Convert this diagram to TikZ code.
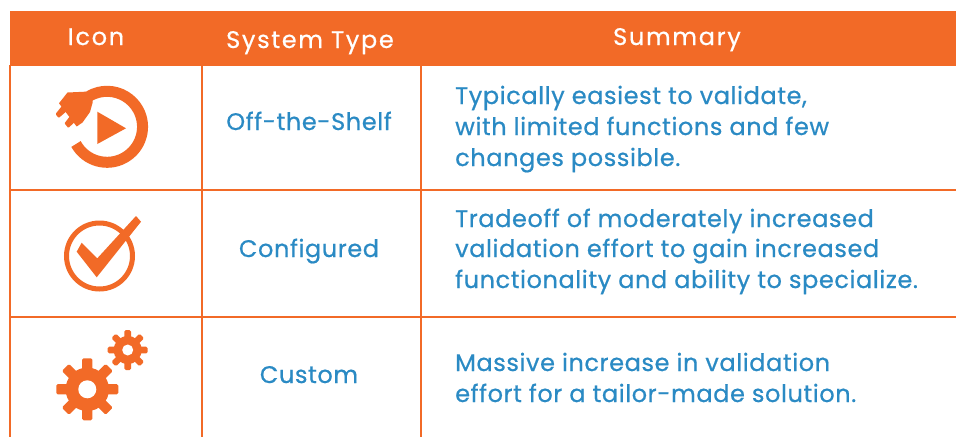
\documentclass[tikz,border=0pt]{standalone}
\usepackage{fontspec}
\setmainfont{Poppins}[FakeBold=0.6,LetterSpace=2.5]
\newfontfamily\headfont{Poppins}[FakeBold=0.6,LetterSpace=7]
\definecolor{org}{HTML}{F26A27}
\definecolor{blu}{HTML}{2A8AC4}
\tikzset{x=1pt,y=-1pt,
 gridline/.style={draw=org,line width=1.2pt},
 head/.style={text=white,font=\headfont\fontsize{24}{26}\selectfont,anchor=base,inner sep=0pt},
 cell/.style={text=blu,font=\fontsize{24}{26}\selectfont,anchor=base,inner sep=0pt},
 sumline/.style={text=blu,font=\fontsize{24}{26}\selectfont,anchor=base west,inner sep=0pt}}
\newcommand{\gearicon}[4]{% x y outerradius innerhole
 \begin{scope}[shift={(#1,#2)}]
  \foreach \a in {0,45,...,315}{
   \fill[org,rotate=\a,rounded corners=1.5pt] (-0.165*#3,0) rectangle (0.165*#3,-#3);
  }
  \fill[org] (0,0) circle (0.7*#3);
  \fill[white] (0,0) circle (#4);
 \end{scope}}
\begin{document}
\begin{tikzpicture}
\useasboundingbox (0,0) rectangle (956,437);
\fill[white] (0,0) rectangle (956,437);
\fill[org] (10,11) rectangle (956,65.5);
\coordinate (v1t) at (202,65); \coordinate (v1b) at (202,437);
\coordinate (v2t) at (421,65); \coordinate (v2b) at (421,437);
\coordinate (v0t) at (10,65); \coordinate (v0b) at (10,437);
\coordinate (h1l) at (10,190); \coordinate (h1r) at (956,190);
\coordinate (h2l) at (10,317); \coordinate (h2r) at (956,317);
\draw[gridline] (v0t)--(v0b);
\draw[gridline] (v1t)--(v1b);
\draw[gridline] (v2t)--(v2b);
\draw[gridline] (h1l)--(h1r);
\draw[gridline] (h2l)--(h2r);
\node[head] (h1) at (96,45) {Icon};
\node[head] (h2) at (310,48) {System Type};
\node[head] (h3) at (677,45) {Summary};
\node[cell] (c1) at (309,130) {Off-the-Shelf};
\node[cell] (c2) at (309,257) {Configured};
\node[cell] (c3) at (309,383) {Custom};
\node[sumline] (s11) at (455,104) {Typically easiest to validate,};
\node[sumline] (s12) at (455,135) {with limited functions and few};
\node[sumline] (s13) at (455,166) {changes possible.};
\node[sumline] (s21) at (455,227) {Tradeoff of moderately increased};
\node[sumline] (s22) at (455,257) {validation effort to gain increased};
\node[sumline] (s23) at (455,288) {functionality and ability to specialize.};
\node[sumline] (s31) at (455,371) {Massive increase in validation};
\node[sumline] (s32) at (455,402) {effort for a tailor-made solution.};
% plug and play icon
\draw[org,line width=11pt] (76,144) arc[start angle=209,end angle=480,radius=35.5pt];
\fill[org] (97.3,111.7) -- (126,128.3) -- (97.3,144) -- cycle;
\fill[org] (59,103.3) -- (67.5,92.5) -- (85,91.7) -- (93,90) -- (92.5,103) -- (90,112) -- (82.5,122.5) -- (76.7,126.5) -- cycle;
\fill[org,rounded corners=0.8pt] (62.7,105) -- (55.5,114) -- (58.7,118) -- (68,110) -- cycle;
\fill[org,rounded corners=0.8pt] (71.7,114) -- (64.5,123.3) -- (68.3,128) -- (78,119) -- cycle;
% check icon
\draw[org,line width=5pt] (99.5,256) circle (33pt);
\fill[org] (76.7,251.7) -- (81.7,242.7) -- (97.3,258.3) -- (136,216) -- (141,221.7) -- (96.7,277.3) -- cycle;
% gears
\gearicon{87.3}{389.3}{31}{9}
\gearicon{127.7}{350}{20}{5.5}
\end{tikzpicture}
\end{document}
